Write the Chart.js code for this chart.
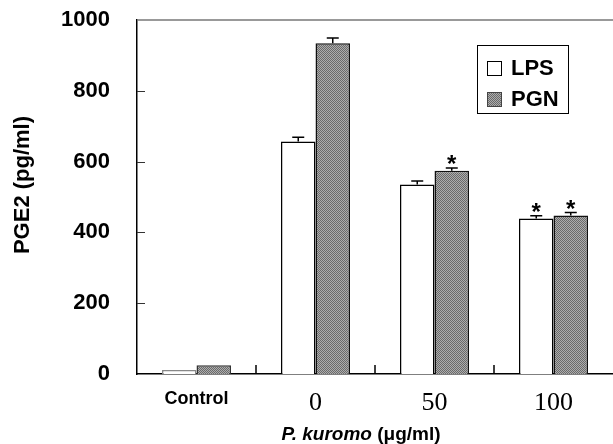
<!DOCTYPE html>
<html>
<head>
<meta charset="utf-8">
<script src="https://cdn.jsdelivr.net/npm/chart.js@4"></script>
<style>
  body { margin: 0; background: #fff; }
  #wrap { width: 613px; height: 444px; }
</style>
</head>
<body>
<div id="wrap"><canvas id="pgeChart"></canvas></div>
<script>
const groups = ["Control", "0", "50", "100"];
const lps = [11, 657, 535, 439];
const pgn = [25, 934, 574, 448];
const lpsErr = [0, 12, 10, 8];
const pgnErr = [0, 15, 8, 8];
const lpsStar = [false, false, false, true];
const pgnStar = [false, false, true, true];
const yMax = 1000;
const yStep = 200;

const SANS = "'Liberation Sans', Arial, sans-serif";
const SERIF = "'Liberation Serif', 'Times New Roman', serif";

// dithered grey fill like the scanned original
function makePattern() {
  const c = document.createElement("canvas");
  c.width = 2; c.height = 2;
  const g = c.getContext("2d");
  g.fillStyle = "#adadad";
  g.fillRect(0, 0, 2, 2);
  g.fillStyle = "#6a6a6a";
  g.fillRect(0, 0, 1, 1);
  g.fillRect(1, 1, 1, 1);
  return g.createPattern(c, "repeat");
}
const pgnFill = makePattern();

const extras = {
  id: "extras",
  afterDatasetsDraw(chart) {
    const { ctx, chartArea: a, scales: { x, y } } = chart;
    ctx.save();

    // top frame line
    ctx.strokeStyle = "#777";
    ctx.lineWidth = 1.5;
    ctx.beginPath();
    ctx.moveTo(a.left, a.top);
    ctx.lineTo(a.right, a.top);
    ctx.stroke();

    // inward y ticks
    ctx.strokeStyle = "#333";
    ctx.lineWidth = 1;
    for (let v = yStep; v < yMax; v += yStep) {
      const py = Math.round(y.getPixelForValue(v)) + 0.5;
      ctx.beginPath();
      ctx.moveTo(a.left, py);
      ctx.lineTo(a.left + 8, py);
      ctx.stroke();
    }
    // x separator ticks
    ctx.strokeStyle = "#000";
    ctx.lineWidth = 1.5;
    for (let i = 1; i < groups.length; i++) {
      const px = (x.getPixelForValue(i - 1) + x.getPixelForValue(i)) / 2;
      ctx.beginPath();
      ctx.moveTo(px, a.bottom);
      ctx.lineTo(px, a.bottom - 9);
      ctx.stroke();
    }

    // error bars and stars
    const errs = [lpsErr, pgnErr];
    const stars = [lpsStar, pgnStar];
    const vals = [lps, pgn];
    chart.data.datasets.forEach((ds, di) => {
      const meta = chart.getDatasetMeta(di);
      meta.data.forEach((bar, i) => {
        const e = errs[di][i];
        const top = y.getPixelForValue(vals[di][i] + e);
        if (e > 0) {
          ctx.strokeStyle = "#000";
          ctx.lineWidth = 1.5;
          ctx.beginPath();
          ctx.moveTo(bar.x, bar.y);
          ctx.lineTo(bar.x, top);
          ctx.moveTo(bar.x - 6, top);
          ctx.lineTo(bar.x + 6, top);
          ctx.stroke();
        }
        if (stars[di][i]) {
          ctx.fillStyle = "#000";
          ctx.font = "bold 24px " + SANS;
          ctx.textAlign = "center";
          ctx.textBaseline = "alphabetic";
          ctx.fillText("*", bar.x, top + 4);
        }
      });
    });

    // legend box
    const lx = 477, ly = 45;
    ctx.strokeStyle = "#000";
    ctx.lineWidth = 1;
    ctx.strokeRect(lx + 0.5, ly + 0.5, 91, 68);
    const fills = ["#fff", pgnFill];
    chart.data.datasets.forEach((ds, di) => {
      const sy = ly + 16 + di * 31;
      ctx.fillStyle = fills[di];
      ctx.fillRect(lx + 10, sy, 15, 15);
      ctx.strokeStyle = di ? "#444" : "#000";
      ctx.strokeRect(lx + 10.5, sy + 0.5, 14, 14);
      ctx.fillStyle = "#000";
      ctx.font = "bold 22px " + SANS;
      ctx.textAlign = "left";
      ctx.textBaseline = "middle";
      ctx.fillText(ds.label, lx + 34, sy + 8);
    });

    // axis titles
    ctx.fillStyle = "#000";
    ctx.save();
    ctx.translate(23, 185);
    ctx.rotate(-Math.PI / 2);
    ctx.font = "bold 22px " + SANS;
    ctx.textAlign = "center";
    ctx.textBaseline = "middle";
    ctx.fillText("PGE2 (pg/ml)", 0, 0);
    ctx.restore();

    const part1 = "P. kuromo", part2 = " (\u03bcg/ml)";
    ctx.textBaseline = "middle";
    ctx.textAlign = "left";
    ctx.font = "italic bold 19px " + SANS;
    const w1 = ctx.measureText(part1).width;
    ctx.font = "bold 19px " + SANS;
    const w2 = ctx.measureText(part2).width;
    const sx = 361 - (w1 + w2) / 2;
    ctx.font = "italic bold 19px " + SANS;
    ctx.fillText(part1, sx, 435);
    ctx.font = "bold 19px " + SANS;
    ctx.fillText(part2, sx + w1, 435);

    ctx.restore();
  }
};

new Chart(document.getElementById("pgeChart"), {
  type: "bar",
  data: {
    labels: groups,
    datasets: [
      {
        label: "LPS",
        data: lps,
        backgroundColor: "#fff",
        borderColor: ["#888", "#000", "#000", "#000"],
        borderWidth: 1.5,
        categoryPercentage: 0.58,
        barPercentage: 1.0
      },
      {
        label: "PGN",
        data: pgn,
        backgroundColor: pgnFill,
        borderColor: ["#333", "#111", "#111", "#111"],
        borderWidth: 1.5,
        categoryPercentage: 0.58,
        barPercentage: 1.0
      }
    ]
  },
  options: {
    responsive: true,
    maintainAspectRatio: false,
    animation: false,
    layout: { padding: { top: 20, right: 0, left: 0, bottom: 0 } },
    plugins: {
      legend: { display: false },
      tooltip: { enabled: false }
    },
    scales: {
      x: {
        grid: { display: false, drawTicks: false },
        border: { color: "#000", width: 1.5 },
        ticks: {
          color: "#000",
          padding: 14,
          font: (c) => c.index === 0
            ? { family: SANS, size: 18, weight: "bold" }
            : { family: SERIF, size: 26, weight: "normal" }
        },
        afterFit: (s) => { s.height = 70; s.paddingLeft = 0; s.paddingRight = 0; }
      },
      y: {
        min: 0,
        max: yMax,
        grid: { display: false, drawTicks: false },
        border: { color: "#000", width: 1.5 },
        ticks: {
          stepSize: yStep,
          color: "#000",
          padding: 27,
          font: { family: SANS, size: 22, weight: "bold" },
          callback: (v) => String(v)
        },
        afterFit: (s) => { s.width = 137; s.paddingTop = 0; s.paddingBottom = 0; }
      }
    }
  },
  plugins: [extras]
});
</script>
</body>
</html>
